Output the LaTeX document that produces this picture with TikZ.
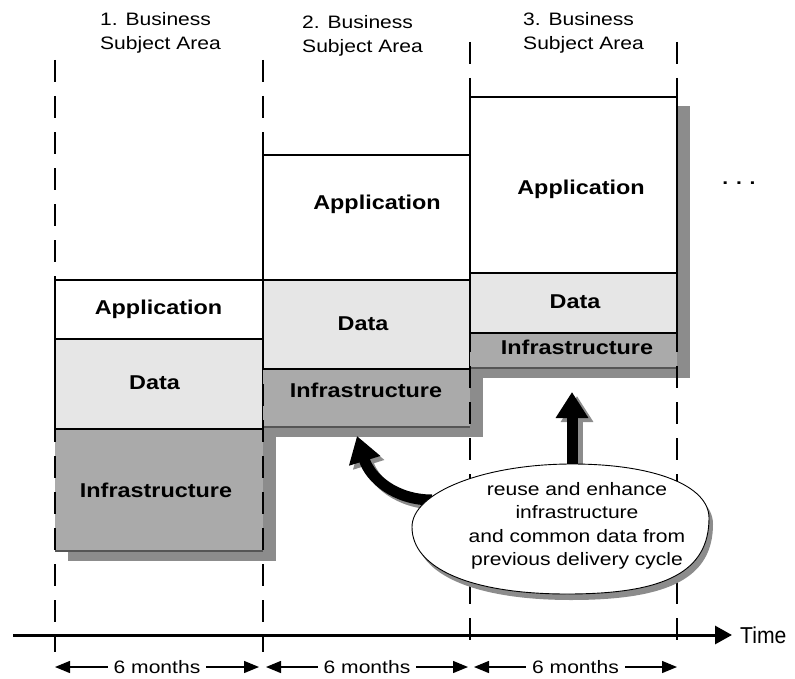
\documentclass[tikz,border=0pt]{standalone}
\usepackage{fontspec}
\setmainfont{Liberation Sans}[FakeStretch=1.17]
\newfontfamily\timefont{Liberation Sans}[FakeStretch=0.92]
\usetikzlibrary{arrows.meta}
\definecolor{shadowgray}{HTML}{8C8C8C}
\definecolor{infragray}{HTML}{AAAAAA}
\definecolor{datagray}{HTML}{E6E6E6}
\definecolor{linegray}{HTML}{555555}
\begin{document}
\begin{tikzpicture}[x=1bp,y=-1bp,
  lbl/.style={font=\fontsize{18bp}{24bp}\selectfont, inner sep=0pt},
  bld/.style={font=\fontsize{20bp}{24bp}\selectfont\bfseries, inner sep=0pt, anchor=base},
  sepline/.style={line width=1.4bp, dash pattern=on 22bp off 14bp},
  boxline/.style={line width=1.3bp},
  bigarrow/.style={line width=11bp, -{Triangle[length=26bp,width=31bp]}},
  mon/.style={line width=1.3bp, {Triangle[length=15bp,width=12bp]}-{Triangle[length=15bp,width=12bp]}},
  montext/.style={lbl, fill=white, inner xsep=6bp, inner ysep=1bp}
]
\useasboundingbox (0,0) rectangle (795,679);

% ---- block 1 ----
\fill[shadowgray] (68,290) rectangle (276,561);
\fill[infragray] (55,429) rectangle (263,551);
\draw[linegray, boxline] (55,551) -- (263,551);
\draw[boxline, fill=white] (55,280) rectangle (263,339);
\draw[boxline, fill=datagray] (55,339) rectangle (263,429);
% ---- block 2 ----
\fill[shadowgray] (276,165) rectangle (483,437);
\fill[infragray] (263,369) rectangle (470,427);
\draw[linegray, boxline] (263,427) -- (470,427);
\draw[boxline, fill=white] (263,155) rectangle (470,280);
\draw[boxline, fill=datagray] (263,280) rectangle (470,369);
% ---- block 3 ----
\fill[shadowgray] (483,106) rectangle (690,378);
\fill[infragray] (470,333) rectangle (677,368);
\draw[linegray, boxline] (470,368) -- (677,368);
\draw[boxline, fill=white] (470,97) rectangle (677,273);
\draw[boxline, fill=datagray] (470,273) rectangle (677,333);

% ---- separators ----
\coordinate (s1a) at (55,60);  \coordinate (s1b) at (55,652);
\coordinate (s2a) at (263,60); \coordinate (s2b) at (263,652);
\coordinate (s3a) at (470,42); \coordinate (s3b) at (470,652);
\coordinate (s4a) at (677,42); \coordinate (s4b) at (677,652);
\draw[sepline] (s1a) -- (s1b);
\draw[sepline] (s2a) -- (s2b);
\draw[sepline] (s3a) -- (s3b);
\draw[sepline] (s4a) -- (s4b);

% ---- headings ----
\node[lbl, align=left, anchor=north west] (h1) at (100,12.2) {1. Business\\Subject Area};
\node[lbl, align=left, anchor=north west] (h2) at (302,15.2) {2. Business\\Subject Area};
\node[lbl, align=left, anchor=north west] (h3) at (523,12.2) {3. Business\\Subject Area};

% ---- layer labels ----
\node[bld] (app1) at (158.5,314) {Application};
\node[bld] (data1) at (154.5,389) {Data};
\node[bld] (infra1) at (156,497) {Infrastructure};
\node[bld] (app2) at (377,209) {Application};
\node[bld] (data2) at (363,330) {Data};
\node[bld] (infra2) at (366,397) {Infrastructure};
\node[bld] (app3) at (581,194) {Application};
\node[bld] (data3) at (575,308) {Data};
\node[bld] (infra3) at (577,354) {Infrastructure};

\node[font=\fontsize{18bp}{24bp}\selectfont\bfseries, inner sep=0pt, anchor=base] (dots) at (739,184) {. . .};

% ---- reuse arrows ----
\coordinate (e1) at (432,500); \coordinate (t1) at (357,436);
\coordinate (e2) at (572,470); \coordinate (t2) at (572,392);
\draw[bigarrow, shadowgray] ([shift={(4,4)}]e1) .. controls (399,504) and (374,482) .. ([shift={(4,4)}]t1);
\draw[bigarrow, shadowgray] ([shift={(5,4)}]e2) -- ([shift={(5,4)}]t2);
\draw[bigarrow] (e1) .. controls (395,500) and (370,478) .. (t1);
\draw[bigarrow] (e2) -- (t2);

% ---- ellipse (callout) ----
\fill[shadowgray, shift={(4,6)}]
  (412,527) .. controls (412,492.4) and (484,464) .. (572,464)
  .. controls (654.2,464) and (709,485.6) .. (709,518)
  .. controls (709,571.2) and (666.4,594) .. (567,594)
  .. controls (470.9,594) and (412,568.5) .. (412,527) -- cycle;
\draw[line width=0.9bp, fill=white]
  (412,527) .. controls (412,492.4) and (484,464) .. (572,464)
  .. controls (654.2,464) and (709,485.6) .. (709,518)
  .. controls (709,571.2) and (666.4,594) .. (567,594)
  .. controls (470.9,594) and (412,568.5) .. (412,527) -- cycle;
\node[font=\fontsize{18bp}{23.3bp}\selectfont, inner sep=0pt, align=center, anchor=north] (etext) at (577,482.2)
  {reuse and enhance\\infrastructure\\and common data from\\previous delivery cycle};

% ---- time axis ----
\coordinate (ax0) at (13,635); \coordinate (ax1) at (732,635);
\draw[line width=3bp, -{Triangle[length=17bp,width=18bp]}] (ax0) -- (ax1);
\node[font=\fontsize{23bp}{24bp}\selectfont\timefont, inner sep=0pt, anchor=west] (time) at (740,635) {Time};

% ---- 6 month spans ----
\coordinate (m1a) at (55,667);  \coordinate (m1b) at (259,667);
\coordinate (m2a) at (266,667); \coordinate (m2b) at (468,667);
\coordinate (m3a) at (474,667); \coordinate (m3b) at (677,667);
\draw[mon] (m1a) -- node[montext] (mt1) {6 months} (m1b);
\draw[mon] (m2a) -- node[montext] (mt2) {6 months} (m2b);
\draw[mon] (m3a) -- node[montext] (mt3) {6 months} (m3b);
\end{tikzpicture}
\end{document}
